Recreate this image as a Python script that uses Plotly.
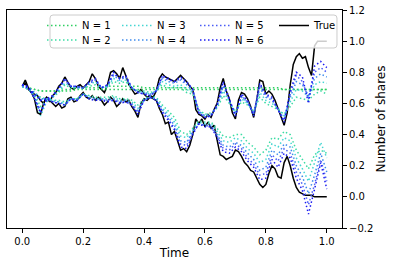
import plotly.graph_objects as go

# ---------------- data ----------------
t_true = [0.00, 0.01, 0.02, 0.03, 0.04, 0.05, 0.06, 0.07, 0.08, 0.09,
          0.10, 0.11, 0.12, 0.13, 0.14, 0.15, 0.16, 0.17, 0.18, 0.19,
          0.20, 0.21, 0.22, 0.23, 0.24, 0.25, 0.26, 0.27, 0.28, 0.29,
          0.30, 0.31, 0.32, 0.33, 0.34, 0.35, 0.36, 0.37, 0.38, 0.39,
          0.40, 0.41, 0.42, 0.43, 0.44, 0.45, 0.46, 0.47, 0.48, 0.49,
          0.50, 0.51, 0.52, 0.53, 0.54, 0.55, 0.56, 0.57, 0.58, 0.59,
          0.60, 0.61, 0.62, 0.63, 0.64, 0.65, 0.66, 0.67, 0.68, 0.69,
          0.70, 0.71, 0.72, 0.73, 0.74, 0.75, 0.76, 0.77, 0.78, 0.79,
          0.80, 0.81, 0.82, 0.83, 0.84, 0.85, 0.86, 0.87, 0.88, 0.89,
          0.90, 0.91, 0.92, 0.93, 0.94, 0.95, 0.96, 0.97, 0.98, 0.99, 1.00]

t_approx = [0.00, 0.02, 0.04, 0.06, 0.08, 0.10, 0.12, 0.14, 0.16, 0.18,
            0.20, 0.22, 0.24, 0.26, 0.28, 0.30, 0.32, 0.34, 0.36, 0.38,
            0.40, 0.42, 0.44, 0.46, 0.48, 0.50, 0.52, 0.54, 0.56, 0.58,
            0.60, 0.62, 0.64, 0.66, 0.68, 0.70, 0.72, 0.74, 0.76, 0.78,
            0.80, 0.82, 0.84, 0.86, 0.88, 0.90, 0.92, 0.94, 0.96, 0.98, 1.00]

# path A (ends at 1)
true_a = [0.71, 0.75, 0.70, 0.67, 0.63, 0.54, 0.53, 0.60, 0.64, 0.61,
          0.65, 0.67, 0.71, 0.73, 0.77, 0.73, 0.70, 0.69, 0.71, 0.72,
          0.70, 0.72, 0.74, 0.79, 0.76, 0.71, 0.69, 0.67, 0.72, 0.80,
          0.81, 0.79, 0.76, 0.83, 0.78, 0.72, 0.69, 0.66, 0.67, 0.69,
          0.66, 0.64, 0.65, 0.64, 0.68, 0.76, 0.79, 0.77, 0.76, 0.75,
          0.74, 0.76, 0.78, 0.76, 0.74, 0.71, 0.69, 0.56, 0.53, 0.52,
          0.50, 0.53, 0.51, 0.56, 0.60, 0.70, 0.76, 0.68, 0.63, 0.54,
          0.50, 0.62, 0.67, 0.66, 0.63, 0.58, 0.51, 0.62, 0.75, 0.74,
          0.66, 0.68, 0.66, 0.62, 0.57, 0.51, 0.46, 0.54, 0.72, 0.85,
          0.90, 0.92, 0.89, 0.90, 0.83, 0.78, 0.97, 1.00, 1.00, 1.00, 1.00]

# path B (ends at 0)
true_b = [0.71, 0.73, 0.69, 0.67, 0.66, 0.65, 0.62, 0.60, 0.64, 0.62,
          0.60, 0.58, 0.60, 0.57, 0.58, 0.63, 0.64, 0.61, 0.62, 0.65,
          0.67, 0.64, 0.63, 0.65, 0.62, 0.64, 0.62, 0.59, 0.61, 0.64,
          0.62, 0.58, 0.60, 0.63, 0.61, 0.62, 0.58, 0.55, 0.51, 0.60,
          0.63, 0.62, 0.64, 0.63, 0.62, 0.57, 0.53, 0.47, 0.48, 0.40,
          0.42, 0.36, 0.30, 0.31, 0.29, 0.33, 0.40, 0.50, 0.47, 0.50,
          0.45, 0.48, 0.44, 0.46, 0.36, 0.27, 0.26, 0.24, 0.25, 0.26,
          0.30, 0.29, 0.26, 0.22, 0.20, 0.17, 0.16, 0.12, 0.08, 0.06,
          0.08, 0.15, 0.20, 0.18, 0.13, 0.12, 0.22, 0.26, 0.20, 0.12,
          0.06, 0.03, 0.02, 0.01, 0.01, 0.01, 0.00, 0.00, 0.00, 0.00, 0.00]

n1_a = [0.71, 0.70, 0.69, 0.68, 0.68, 0.68, 0.68, 0.69, 0.69, 0.70, 0.70, 0.70, 0.70, 0.70, 0.71, 0.71, 0.71,
        0.71, 0.71, 0.71, 0.70, 0.70, 0.70, 0.70, 0.70, 0.70, 0.70, 0.70, 0.70, 0.70, 0.70, 0.70, 0.70, 0.70,
        0.70, 0.70, 0.70, 0.70, 0.70, 0.70, 0.70, 0.70, 0.70, 0.69, 0.69, 0.69, 0.69, 0.69, 0.69, 0.69, 0.69]
n2_a = [0.71, 0.69, 0.66, 0.58, 0.62, 0.64, 0.67, 0.72, 0.70, 0.70, 0.70, 0.71, 0.72, 0.70, 0.70, 0.74, 0.73,
        0.74, 0.70, 0.68, 0.68, 0.67, 0.68, 0.72, 0.70, 0.70, 0.70, 0.67, 0.66, 0.56, 0.53, 0.54, 0.57, 0.65,
        0.60, 0.55, 0.61, 0.59, 0.55, 0.64, 0.60, 0.58, 0.56, 0.53, 0.58, 0.64, 0.63, 0.62, 0.66, 0.68, 0.66]
n3_a = [0.71, 0.69, 0.65, 0.52, 0.61, 0.64, 0.68, 0.73, 0.71, 0.70, 0.70, 0.72, 0.74, 0.70, 0.71, 0.76, 0.74,
        0.75, 0.70, 0.68, 0.67, 0.66, 0.68, 0.74, 0.72, 0.71, 0.72, 0.69, 0.67, 0.55, 0.52, 0.53, 0.58, 0.68,
        0.61, 0.54, 0.63, 0.60, 0.54, 0.67, 0.62, 0.60, 0.57, 0.52, 0.61, 0.69, 0.68, 0.64, 0.72, 0.74, 0.73]
n4_a = [0.71, 0.70, 0.64, 0.55, 0.62, 0.64, 0.69, 0.75, 0.71, 0.70, 0.70, 0.73, 0.75, 0.70, 0.71, 0.78, 0.75,
        0.77, 0.70, 0.67, 0.67, 0.66, 0.68, 0.76, 0.74, 0.73, 0.75, 0.72, 0.68, 0.55, 0.52, 0.53, 0.58, 0.71,
        0.62, 0.53, 0.64, 0.61, 0.53, 0.70, 0.64, 0.62, 0.56, 0.50, 0.64, 0.74, 0.72, 0.65, 0.76, 0.79, 0.77]
n5_a = [0.72, 0.70, 0.64, 0.55, 0.62, 0.65, 0.70, 0.75, 0.71, 0.71, 0.70, 0.73, 0.75, 0.70, 0.72, 0.79, 0.76,
        0.77, 0.70, 0.67, 0.66, 0.65, 0.68, 0.77, 0.75, 0.74, 0.76, 0.73, 0.69, 0.54, 0.51, 0.52, 0.59, 0.73,
        0.62, 0.52, 0.65, 0.61, 0.53, 0.72, 0.65, 0.63, 0.56, 0.49, 0.66, 0.78, 0.74, 0.63, 0.80, 0.83, 0.80]
n6_a = [0.72, 0.71, 0.63, 0.54, 0.63, 0.65, 0.70, 0.76, 0.71, 0.71, 0.70, 0.74, 0.76, 0.70, 0.72, 0.80, 0.76,
        0.78, 0.70, 0.67, 0.66, 0.65, 0.68, 0.78, 0.76, 0.74, 0.77, 0.74, 0.69, 0.54, 0.51, 0.52, 0.59, 0.74,
        0.63, 0.52, 0.66, 0.62, 0.52, 0.73, 0.66, 0.64, 0.56, 0.48, 0.68, 0.80, 0.77, 0.60, 0.84, 0.87, 0.83]

n1_b = [0.71, 0.70, 0.69, 0.68, 0.68, 0.68, 0.68, 0.68, 0.68, 0.69, 0.69, 0.69, 0.69, 0.69, 0.69, 0.69, 0.69,
        0.69, 0.69, 0.69, 0.69, 0.69, 0.69, 0.69, 0.69, 0.69, 0.69, 0.69, 0.69, 0.69, 0.69, 0.69, 0.69, 0.69,
        0.69, 0.69, 0.69, 0.69, 0.69, 0.69, 0.69, 0.69, 0.69, 0.69, 0.69, 0.69, 0.69, 0.69, 0.69, 0.69, 0.69]
n2_b = [0.71, 0.69, 0.67, 0.64, 0.63, 0.62, 0.62, 0.61, 0.63, 0.63, 0.66, 0.65, 0.64, 0.64, 0.64, 0.65, 0.63,
        0.63, 0.62, 0.59, 0.63, 0.65, 0.64, 0.59, 0.55, 0.51, 0.42, 0.40, 0.44, 0.49, 0.48, 0.48, 0.44, 0.39,
        0.38, 0.40, 0.40, 0.35, 0.32, 0.27, 0.30, 0.38, 0.37, 0.42, 0.40, 0.30, 0.24, 0.18, 0.27, 0.30, 0.28]
n3_b = [0.71, 0.70, 0.67, 0.63, 0.63, 0.62, 0.61, 0.60, 0.63, 0.63, 0.66, 0.64, 0.63, 0.63, 0.63, 0.64, 0.62,
        0.62, 0.61, 0.57, 0.62, 0.64, 0.63, 0.57, 0.53, 0.48, 0.39, 0.38, 0.43, 0.48, 0.47, 0.47, 0.42, 0.36,
        0.35, 0.38, 0.36, 0.31, 0.28, 0.22, 0.24, 0.34, 0.32, 0.38, 0.36, 0.25, 0.18, 0.10, 0.22, 0.35, 0.25]
n4_b = [0.71, 0.70, 0.67, 0.63, 0.63, 0.61, 0.61, 0.59, 0.63, 0.62, 0.66, 0.64, 0.63, 0.63, 0.62, 0.63, 0.61,
        0.62, 0.60, 0.55, 0.62, 0.64, 0.63, 0.56, 0.51, 0.46, 0.36, 0.35, 0.42, 0.47, 0.46, 0.46, 0.40, 0.33,
        0.32, 0.35, 0.33, 0.28, 0.24, 0.17, 0.19, 0.30, 0.27, 0.34, 0.32, 0.20, 0.13, 0.02, 0.14, 0.28, 0.16]
n5_b = [0.72, 0.70, 0.66, 0.62, 0.63, 0.61, 0.60, 0.59, 0.63, 0.62, 0.66, 0.63, 0.62, 0.62, 0.62, 0.62, 0.61,
        0.61, 0.59, 0.54, 0.62, 0.64, 0.62, 0.55, 0.50, 0.44, 0.34, 0.33, 0.41, 0.47, 0.46, 0.45, 0.39, 0.31,
        0.30, 0.34, 0.31, 0.25, 0.21, 0.14, 0.15, 0.27, 0.23, 0.31, 0.28, 0.16, 0.08, -0.05, 0.08, 0.24, 0.10]
n6_b = [0.72, 0.70, 0.66, 0.62, 0.63, 0.61, 0.60, 0.59, 0.63, 0.62, 0.66, 0.63, 0.62, 0.62, 0.61, 0.62, 0.60,
        0.61, 0.59, 0.53, 0.62, 0.64, 0.62, 0.54, 0.49, 0.43, 0.32, 0.31, 0.40, 0.47, 0.45, 0.45, 0.38, 0.29,
        0.28, 0.32, 0.29, 0.23, 0.19, 0.11, 0.12, 0.24, 0.19, 0.28, 0.25, 0.12, 0.04, -0.11, 0.05, 0.22, 0.05]

series_labels = ["N = 1", "N = 2", "N = 3", "N = 4", "N = 5", "N = 6"]
series_colors = ["#2fcf62", "#3cdca4", "#45d6d2", "#3d8bec", "#4a5cf6", "#1a1af2"]

x_tick_vals = [0.0, 0.2, 0.4, 0.6, 0.8, 1.0]
x_tick_text = ["0.0", "0.2", "0.4", "0.6", "0.8", "1.0"]
y_tick_vals = [-0.2, 0.0, 0.2, 0.4, 0.6, 0.8, 1.0, 1.2]
y_tick_text = ["\u22120.2", "0.0", "0.2", "0.4", "0.6", "0.8", "1.0", "1.2"]

approx_a = [n1_a, n2_a, n3_a, n4_a, n5_a, n6_a]
approx_b = [n1_b, n2_b, n3_b, n4_b, n5_b, n6_b]

# legend layout: two rows of a matplotlib-like 4-column legend
legend_row = ["legend", "legend2", "legend", "legend2", "legend", "legend2"]
legend_item_width = [30, 30, 33, 33, 34, 34]

# ---------------- figure ----------------
fig = go.Figure()

fig.add_trace(go.Scatter(x=t_true, y=true_a, mode="lines", name="True",
                         legendgroup="True", legend="legend3", legendwidth=22,
                         line=dict(color="black", width=1.5)))
fig.add_trace(go.Scatter(x=t_true, y=true_b, mode="lines", name="True",
                         legendgroup="True", showlegend=False,
                         line=dict(color="black", width=1.5)))

for i in range(6):
    for vals, show in ((approx_a[i], True), (approx_b[i], False)):
        fig.add_trace(go.Scatter(x=t_approx, y=vals, mode="lines",
                                 name=series_labels[i],
                                 legendgroup=series_labels[i],
                                 legend=legend_row[i],
                                 legendrank=i + 1,
                                 legendwidth=legend_item_width[i],
                                 showlegend=show,
                                 line=dict(color=series_colors[i], width=1.5,
                                           dash="1.5px,2.5px")))

# legend frame (rounded, light grey) in paper coordinates
bx0, bx1, by0, by1 = 0.1284, 0.985, 0.8257, 0.977
rx, ry = 0.009, 0.0138
frame_path = (f"M {bx0+rx},{by1} L {bx1-rx},{by1} Q {bx1},{by1} {bx1},{by1-ry} "
              f"L {bx1},{by0+ry} Q {bx1},{by0} {bx1-rx},{by0} L {bx0+rx},{by0} "
              f"Q {bx0},{by0} {bx0},{by0+ry} L {bx0},{by1-ry} Q {bx0},{by1} {bx0+rx},{by1} Z")

axis_common = dict(showline=True, mirror=True, linecolor="black", linewidth=1,
                   ticks="outside", ticklen=4, tickwidth=1, tickcolor="black",
                   showgrid=False, zeroline=False, automargin=False)

legend_common = dict(orientation="h", entrywidthmode="pixels",
                     xanchor="left", yanchor="middle",
                     bgcolor="rgba(0,0,0,0)", borderwidth=0,
                     font=dict(size=10), tracegroupgap=0)

fig.update_layout(
    template="none",
    width=394, height=266,
    margin=dict(l=7, r=52, t=10, b=38, autoexpand=False),
    paper_bgcolor="white", plot_bgcolor="white",
    font=dict(family="DejaVu Sans", size=10, color="black"),
    hovermode=False,
    showlegend=True,
    legend=dict(x=0.1045, y=0.9289, **legend_common),
    legend2=dict(x=0.1045, y=0.8624, **legend_common),
    legend3=dict(x=0.797, y=0.9289, **legend_common),
    shapes=[dict(type="path", path=frame_path, xref="paper", yref="paper",
                 fillcolor="rgba(255,255,255,0.8)", line=dict(color="#cccccc", width=1),
                 layer="above")],
    xaxis=dict(range=[-0.05, 1.05], tickvals=x_tick_vals, ticktext=x_tick_text,
               title=dict(text="Time", standoff=2), **axis_common),
    yaxis=dict(range=[-0.2, 1.2], side="right", tickvals=y_tick_vals, ticktext=y_tick_text,
               title=dict(text="Number of shares", standoff=4), **axis_common),
)

fig.write_html("out.html", config={"displayModeBar": False},
               post_script="document.body.style.margin='0';")
